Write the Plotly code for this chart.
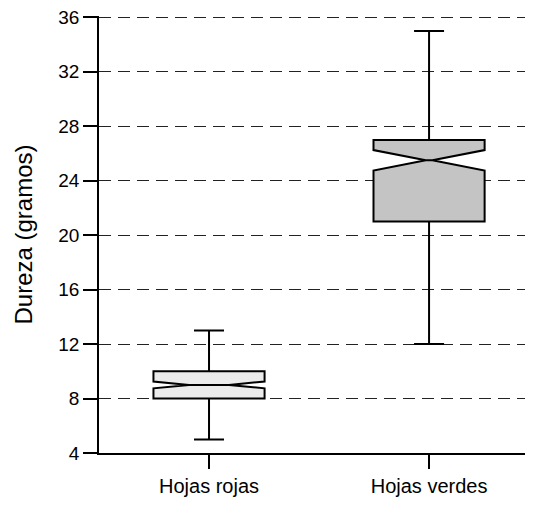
import plotly.graph_objects as go

categories = ["Hojas rojas", "Hojas verdes"]
q1 = [8, 21]
median = [9, 25.5]
q3 = [10, 27]
lower = [5, 12]
upper = [13, 35]
notch = [0.25, 0.75]
fills = ["#ebebeb", "#c4c4c4"]
notchw = [0.32, 0.47]
y_ticks = [4, 8, 12, 16, 20, 24, 28, 32, 36]

fig = go.Figure()
for i, c in enumerate(categories):
    fig.add_trace(go.Box(
        x=[c], q1=[q1[i]], median=[median[i]], q3=[q3[i]],
        lowerfence=[lower[i]], upperfence=[upper[i]],
        notched=True, notchspan=[notch[i]], notchwidth=notchw[i],
        width=0.505, whiskerwidth=0.27,
        fillcolor=fills[i], line=dict(color="black", width=2),
        boxpoints=False, showlegend=False,
    ))

fig.update_layout(
    width=517, height=489,
    margin=dict(l=91, r=0, t=8, b=34),
    paper_bgcolor="white", plot_bgcolor="white",
    boxmode="overlay",
    font=dict(family="Liberation Sans, Arial, sans-serif", color="black", size=19),
    xaxis=dict(
        type="category", categoryorder="array", categoryarray=categories,
        range=[-0.5, 1.436],
        showline=True, linecolor="black", linewidth=1.5,
        ticks="outside", ticklen=14, tickwidth=1.5, tickcolor="black",
        showgrid=False, zeroline=False,
        tickfont=dict(size=20),
    ),
    yaxis=dict(
        range=[4, 36.1], tickvals=y_ticks,
        showline=True, linecolor="black", linewidth=1.5,
        ticks="outside", ticklen=14, tickwidth=1.5, tickcolor="black",
        showgrid=True, gridcolor="#222222", gridwidth=1, griddash="12px,7px",
        zeroline=False, automargin=False, ticklabeloverflow="allow",
        title=dict(text="Dureza (gramos)", font=dict(size=24), standoff=19),
        tickfont=dict(size=19),
    ),
)

fig.write_html("out.html")
